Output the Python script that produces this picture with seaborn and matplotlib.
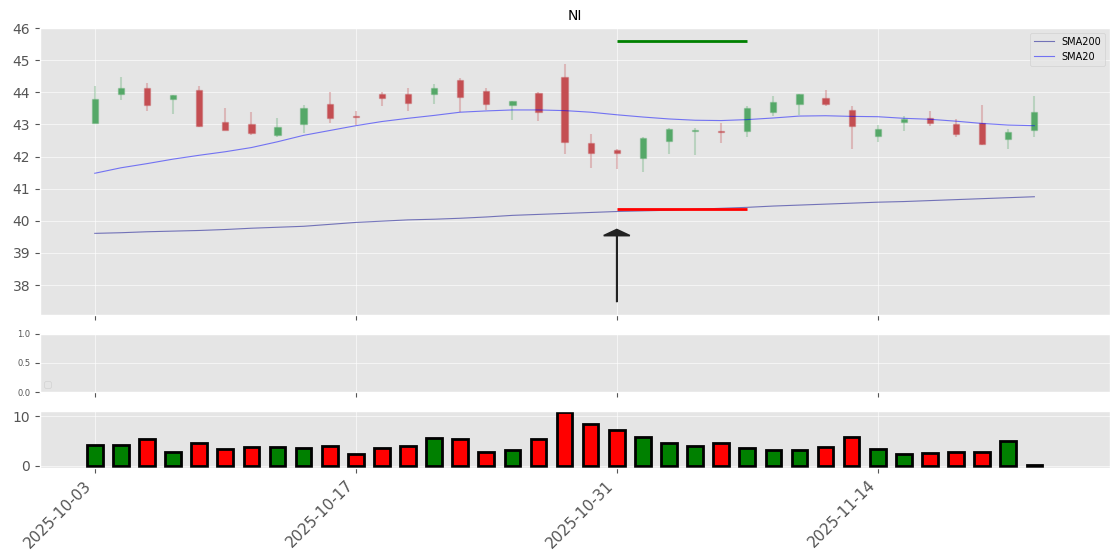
import numpy as np
import pandas as pd
import matplotlib
matplotlib.use('Agg')
import matplotlib.pyplot as plt
import seaborn as sns

# data
ticker = 'NI'
dates = pd.bdate_range('2025-10-03', periods=37)
opens = [43.03, 43.94, 44.12, 43.80, 44.08, 43.07, 43.00, 42.66, 43.00, 43.65,
         43.26, 43.96, 43.94, 43.96, 44.37, 44.05, 43.59, 43.99, 44.48, 42.41,
         42.19, 41.95, 42.47, 42.81, 42.80, 42.79, 43.40, 43.65, 43.83, 43.46,
         42.63, 43.09, 43.19, 43.01, 43.04, 42.56, 42.84]
highs = [44.20, 44.48, 44.28, 43.92, 44.21, 43.50, 43.40, 43.21, 43.59, 44.02,
         43.43, 44.02, 44.12, 44.25, 44.43, 44.14, 43.74, 44.02, 44.87, 42.69,
         42.25, 42.60, 42.90, 42.90, 43.05, 43.56, 43.88, 43.96, 44.06, 43.57,
         42.98, 43.26, 43.41, 43.18, 43.60, 42.87, 43.88]
lows = [43.03, 43.77, 43.43, 43.31, 42.92, 42.82, 42.67, 42.62, 42.72, 43.04,
        42.97, 43.56, 43.43, 43.63, 43.38, 43.45, 43.15, 43.12, 42.08, 41.65,
        41.62, 41.52, 42.08, 42.04, 42.42, 42.60, 43.25, 43.30, 43.56, 42.22,
        42.45, 42.78, 42.94, 42.60, 42.37, 42.25, 42.60]
closes = [43.80, 44.14, 43.59, 43.90, 42.94, 42.83, 42.72, 42.91, 43.52, 43.21,
          43.24, 43.83, 43.68, 44.12, 43.85, 43.62, 43.72, 43.38, 42.45, 42.10,
          42.10, 42.57, 42.85, 42.84, 42.77, 43.52, 43.71, 43.94, 43.62, 42.94,
          42.87, 43.17, 43.03, 42.69, 42.38, 42.77, 43.39]
sma20 = [41.48, 41.65, 41.78, 41.92, 42.04, 42.15, 42.28, 42.46, 42.66, 42.81,
         42.96, 43.09, 43.19, 43.28, 43.38, 43.42, 43.45, 43.45, 43.43, 43.38,
         43.30, 43.23, 43.17, 43.13, 43.12, 43.15, 43.20, 43.26, 43.27, 43.25,
         43.24, 43.19, 43.16, 43.10, 43.03, 42.98, 42.96]
sma200 = [39.61, 39.63, 39.66, 39.68, 39.70, 39.73, 39.77, 39.80, 39.83, 39.89,
          39.95, 39.99, 40.03, 40.05, 40.08, 40.12, 40.17, 40.20, 40.23, 40.26,
          40.29, 40.31, 40.33, 40.36, 40.39, 40.42, 40.46, 40.49, 40.52, 40.55,
          40.58, 40.60, 40.63, 40.66, 40.69, 40.72, 40.75]
volume = [4.2, 4.2, 5.3, 2.8, 4.6, 3.3, 3.7, 3.8, 3.5, 4.0,
          2.3, 3.5, 4.0, 5.5, 5.3, 2.8, 3.1, 5.3, 10.8, 8.5,
          7.3, 5.8, 4.5, 3.9, 4.5, 3.5, 3.1, 3.1, 3.7, 5.7,
          3.3, 2.3, 2.5, 2.7, 2.7, 4.9, 0.1]
signal_idx = 20
signal_end = 25
target_price = 45.6
stop_price = 40.37
arrow_low = 37.47
arrow_high = 39.73

df = pd.DataFrame({'date': dates, 'open': opens, 'high': highs, 'low': lows,
                   'close': closes, 'sma20': sma20, 'sma200': sma200, 'volume': volume})
df['i'] = np.arange(len(df))
up = df['close'] >= df['open']

plt.style.use('ggplot')
plt.rcParams['grid.alpha'] = 0.6
deep = sns.color_palette('deep')
c_up, c_down = deep[2], deep[3]

fig = plt.figure(figsize=(11.2, 5.6), dpi=100)
ax = fig.add_axes([0.0357, 0.4375, 0.9554, 0.5125])
ax_mid = fig.add_axes([0.0357, 0.30, 0.9554, 0.1036], sharex=ax)
ax_vol = fig.add_axes([0.0357, 0.1643, 0.9554, 0.102], sharex=ax)

# candles
cols = [c_up if u else c_down for u in up]
ax.vlines(df['i'], df['low'], df['high'], colors=cols, alpha=0.3, linewidth=1.5)
ax.bar(df['i'], (df['close'] - df['open']).abs().clip(lower=0.03),
       bottom=np.minimum(df['open'], df['close']), width=0.24,
       color=cols, edgecolor=[(*c, 0.35) for c in cols], linewidth=1)

# moving averages
sns.lineplot(data=df, x='i', y='sma200', ax=ax, color='darkblue', alpha=0.5,
             linewidth=0.8, label='SMA200')
sns.lineplot(data=df, x='i', y='sma20', ax=ax, color='blue', alpha=0.5,
             linewidth=0.8, label='SMA20')

# target / stop levels and signal arrow
ax.hlines(target_price, signal_idx, signal_end, colors='green', linewidth=2)
ax.hlines(stop_price, signal_idx, signal_end, colors='red', linewidth=2)
ax.arrow(signal_idx, arrow_low, 0, arrow_high - arrow_low, width=0.0,
         head_width=1.0, head_length=0.19, length_includes_head=True,
         color='#222222', linewidth=1.2)

ax.set_title(ticker, fontsize=10)
ax.set_ylim(37.07, 46.0)
ax.set_yticks(range(38, 47))
ax.tick_params(axis='y', labelsize=10)
ax.set_xlim(-2.1, 38.9)
ax.set_xlabel('')
ax.set_ylabel('')
ax.legend(loc='upper right', fontsize=7)
ax.tick_params(axis='x', labelbottom=False)

# empty indicator panel
ax_mid.set_ylim(0, 1)
ax_mid.set_yticks([0.0, 0.5, 1.0])
ax_mid.tick_params(axis='y', labelsize=6)
ax_mid.tick_params(axis='x', labelbottom=False)
ax_mid.legend(handles=[], loc='lower left', fontsize=6)

# volume
vcols = ['green' if u else 'red' for u in up]
ax_vol.bar(df['i'], df['volume'], width=0.6, color=vcols, edgecolor='black', linewidth=2)
ax_vol.set_ylim(-0.46, 11.06)
ax_vol.set_yticks([0, 10])
ax_vol.tick_params(axis='y', labelsize=10)

ticks = [0, 10, 20, 30]
ax_vol.set_xticks(ticks)
ax_vol.set_xticklabels([df['date'][t].strftime('%Y-%m-%d') for t in ticks],
                       rotation=45, ha='right', fontsize=11)

fig.savefig('out.png', dpi=100)
